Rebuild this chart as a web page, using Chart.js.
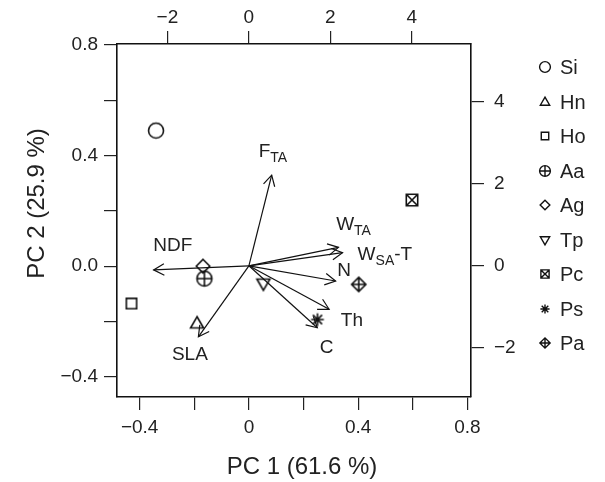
<!DOCTYPE html>
<html>
<head>
<meta charset="utf-8">
<script src="https://cdn.jsdelivr.net/npm/chart.js@4"></script>
<style>
  body { margin: 0; background: #fff; }
  #wrap { width: 605px; height: 482px; }
</style>
</head>
<body>
<div id="wrap"><canvas id="myChart" width="605" height="482"></canvas></div>
<script>
// sample scores (bottom / left axes)
const groups = ['Si', 'Hn', 'Ho', 'Aa', 'Ag', 'Tp', 'Pc', 'Ps', 'Pa'];
const pc1 = [-0.34, -0.19, -0.43, -0.163, -0.168, 0.053, 0.597, 0.251, 0.402];
const pc2 = [0.49, -0.207, -0.135, -0.045, 0.0, -0.063, 0.239, -0.193, -0.066];
const shapes = ['circle', 'triUp', 'square', 'circlePlus', 'diamond', 'triDown', 'squareX', 'asterisk', 'diamondPlus'];

// variable loadings (top / right axes)
const varNames = ['F_{TA}', 'NDF', 'W_{TA}', 'W_{SA}-T', 'N', 'Th', 'C', 'SLA'];
const loadX = [0.56, -2.34, 2.20, 2.30, 2.13, 1.97, 1.68, -1.24];
const loadY = [2.21, -0.10, 0.45, 0.32, -0.37, -1.06, -1.51, -1.73];

// ticks
const xTicks = [-0.4, -0.2, 0, 0.2, 0.4, 0.6, 0.8];
const xTickLabels = ['\u22120.4', '', '0', '', '0.4', '', '0.8'];
const yTicks = [-0.4, -0.2, 0, 0.2, 0.4, 0.6, 0.8];
const yTickLabels = ['\u22120.4', '', '0.0', '', '0.4', '', '0.8'];
const x2Ticks = [-2, 0, 2, 4];
const x2TickLabels = ['\u22122', '0', '2', '4'];
const y2Ticks = [-2, 0, 2, 4];
const y2TickLabels = ['\u22122', '0', '2', '4'];

const xTitle = 'PC 1 (61.6 %)';
const yTitle = 'PC 2 (25.9 %)';

// where the arrow labels sit (top/right axis units)
const labelAt = [[0.59, 2.83], [-1.87, 0.54], [2.57, 1.04], [3.34, 0.32], [2.34, -0.08], [2.53, -1.30], [1.91, -1.95], [-1.45, -2.12]];

const FONT = '"Liberation Sans", Arial, Helvetica, sans-serif';
const INK = '#222';

function marker(shape, s, lw) {
  const n = Math.ceil(s * 2 + 5);
  const c = document.createElement('canvas');
  c.width = n; c.height = n;
  const g = c.getContext('2d');
  g.translate(n / 2, n / 2);
  g.strokeStyle = '#111';
  g.lineWidth = lw;
  g.beginPath();
  const poly = pts => { g.moveTo(pts[0][0], pts[0][1]); pts.slice(1).forEach(p => g.lineTo(p[0], p[1])); g.closePath(); };
  const tri = dir => {
    const pts = [];
    for (let k = 0; k < 3; k++) {
      const a = (dir * -90 + k * 120) * Math.PI / 180;
      pts.push([s * Math.cos(a), s * Math.sin(a) + dir * s * 0.1]);
    }
    poly(pts);
  };
  if (shape === 'circle') {
    g.arc(0, 0, s, 0, Math.PI * 2);
  } else if (shape === 'triUp') {
    tri(1);
  } else if (shape === 'triDown') {
    tri(-1);
  } else if (shape === 'square') {
    const h = s * 0.69;
    g.rect(-h, -h, 2 * h, 2 * h);
  } else if (shape === 'diamond') {
    const h = s * 0.9;
    poly([[0, -h], [h, 0], [0, h], [-h, 0]]);
  } else if (shape === 'circlePlus') {
    g.arc(0, 0, s, 0, Math.PI * 2);
    g.moveTo(-s, 0); g.lineTo(s, 0); g.moveTo(0, -s); g.lineTo(0, s);
  } else if (shape === 'squareX') {
    const h = s * 0.76;
    g.rect(-h, -h, 2 * h, 2 * h);
    g.moveTo(-h, -h); g.lineTo(h, h); g.moveTo(h, -h); g.lineTo(-h, h);
  } else if (shape === 'asterisk') {
    const h = s * 0.85, d = h * 0.72;
    g.moveTo(-h, 0); g.lineTo(h, 0); g.moveTo(0, -h); g.lineTo(0, h);
    g.moveTo(-d, -d); g.lineTo(d, d); g.moveTo(d, -d); g.lineTo(-d, d);
  } else if (shape === 'diamondPlus') {
    const h = s * 0.95;
    poly([[0, -h], [h, 0], [0, h], [-h, 0]]);
    g.moveTo(-h, 0); g.lineTo(h, 0); g.moveTo(0, -h); g.lineTo(0, h);
  }
  g.stroke();
  return c;
}

const plotMarkers = shapes.map(sh => marker(sh, 7.5, 1.6));
const legendMarkers = shapes.map(sh => marker(sh, 5.4, 1.4));

const datasets = [];
groups.forEach((name, i) => {
  datasets.push({
    label: name,
    data: [{ x: pc1[i], y: pc2[i] }],
    pointStyle: plotMarkers[i],
    xAxisID: 'x',
    yAxisID: 'y'
  });
});
varNames.forEach((name, j) => {
  datasets.push({
    label: name,
    isArrow: true,
    data: [{ x: 0, y: 0 }, { x: loadX[j], y: loadY[j] }],
    showLine: true,
    borderColor: '#111',
    borderWidth: 1.2,
    pointRadius: 0,
    xAxisID: 'x2',
    yAxisID: 'y2'
  });
});

function splitLabel(txt) {
  const parts = [];
  const re = /_\{([^}]*)\}/g;
  let last = 0, m;
  while ((m = re.exec(txt)) !== null) {
    if (m.index > last) parts.push({ t: txt.slice(last, m.index), sub: false });
    parts.push({ t: m[1], sub: true });
    last = re.lastIndex;
  }
  if (last < txt.length) parts.push({ t: txt.slice(last), sub: false });
  return parts;
}

const mainFont = '19px ' + FONT;
const subFont = '14px ' + FONT;

const biplotExtras = {
  id: 'biplotExtras',
  afterDatasetsDraw(chart) {
    const ctx = chart.ctx;
    const sx = chart.scales.x2, sy = chart.scales.y2;
    ctx.save();
    ctx.strokeStyle = '#111';
    ctx.lineWidth = 1.2;
    // open arrow heads
    chart.data.datasets.forEach((ds, i) => {
      if (!ds.isArrow) return;
      const pts = chart.getDatasetMeta(i).data;
      const a = pts[0], b = pts[1];
      const ang = Math.atan2(b.y - a.y, b.x - a.x);
      const len = 12, spread = 0.5;
      ctx.beginPath();
      ctx.moveTo(b.x - len * Math.cos(ang - spread), b.y - len * Math.sin(ang - spread));
      ctx.lineTo(b.x, b.y);
      ctx.lineTo(b.x - len * Math.cos(ang + spread), b.y - len * Math.sin(ang + spread));
      ctx.stroke();
    });
    // variable labels with subscripts
    ctx.fillStyle = INK;
    ctx.textBaseline = 'alphabetic';
    ctx.textAlign = 'left';
    varNames.forEach((name, j) => {
      const parts = splitLabel(name);
      let w = 0;
      parts.forEach(p => { ctx.font = p.sub ? subFont : mainFont; p.w = ctx.measureText(p.t).width; w += p.w; });
      let x = sx.getPixelForValue(labelAt[j][0]) - w / 2;
      const base = sy.getPixelForValue(labelAt[j][1]) + 7;
      parts.forEach(p => {
        ctx.font = p.sub ? subFont : mainFont;
        ctx.fillText(p.t, x, p.sub ? base + 5 : base);
        x += p.w;
      });
    });
    ctx.restore();
  },
  afterDraw(chart) {
    const ctx = chart.ctx;
    const ca = chart.chartArea;
    ctx.save();
    ctx.fillStyle = INK;
    // axis titles
    ctx.font = '24px ' + FONT;
    ctx.textAlign = 'center';
    ctx.textBaseline = 'middle';
    ctx.fillText(xTitle, (ca.left + ca.right) / 2 + 8, ca.bottom + 70);
    ctx.translate(ca.left - 80, (ca.top + ca.bottom) / 2 - 17);
    ctx.rotate(-Math.PI / 2);
    ctx.fillText(yTitle, 0, 0);
    ctx.restore();
    // legend
    ctx.save();
    ctx.fillStyle = INK;
    ctx.font = '20px ' + FONT;
    ctx.textAlign = 'left';
    ctx.textBaseline = 'middle';
    groups.forEach((name, i) => {
      const y = Math.round(67 + i * 34.5);
      const m = legendMarkers[i];
      ctx.drawImage(m, Math.round(ca.right + 74 - m.width / 2), Math.round(y - m.height / 2));
      ctx.fillText(name, ca.right + 89, y + 1);
    });
    ctx.restore();
  }
};

const tickFont = { family: FONT, size: 19 };

function axis(position, min, max, values, labels, size, pad) {
  return {
    type: 'linear',
    position: position,
    min: min,
    max: max,
    bounds: 'data',
    afterBuildTicks: s => { s.ticks = values.map(v => ({ value: v })); },
    afterFit: s => {
      if (position === 'left' || position === 'right') s.width = size; else s.height = size;
    },
    ticks: {
      callback: (v, i) => labels[i],
      autoSkip: false,
      maxRotation: 0,
      padding: pad,
      color: INK,
      font: tickFont
    },
    grid: { drawOnChartArea: false, tickLength: 13, color: INK, lineWidth: 1.2 },
    border: { display: true, color: '#111', width: 1.6 }
  };
}

const ctx = document.getElementById('myChart');

new Chart(ctx, {
  type: 'scatter',
  data: { datasets: datasets },
  options: {
    responsive: false,
    animation: false,
    events: [],
    layout: { padding: 0 },
    plugins: {
      legend: { display: false },
      tooltip: { enabled: false }
    },
    scales: {
      x: axis('bottom', -0.483, 0.813, xTicks, xTickLabels, 85, 6),
      y: axis('left', -0.473, 0.803, yTicks, yTickLabels, 117, 6),
      x2: axis('top', -3.239, 5.455, x2Ticks, x2TickLabels, 44, 2),
      y2: axis('right', -3.198, 5.407, y2Ticks, y2TickLabels, 134, 10)
    }
  },
  plugins: [biplotExtras]
});
</script>
</body>
</html>
